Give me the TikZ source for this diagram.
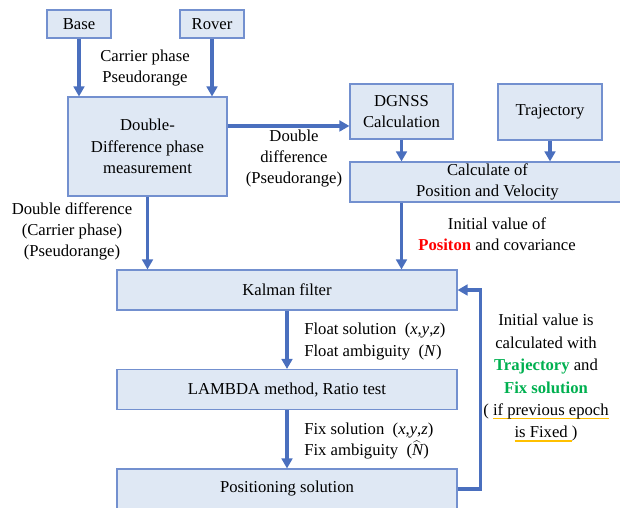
\documentclass[tikz,border=0pt]{standalone}
\usepackage{fontspec}
\setmainfont{Liberation Serif}[Ligatures=TeX]
\usepackage{xcolor}
\usepackage{tikz}
\usetikzlibrary{arrows.meta,positioning}
\definecolor{flowBlue}{HTML}{4A6FBE}
\definecolor{boxEdge}{HTML}{7390CF}
\definecolor{boxFill}{HTML}{DFE8F4}
\definecolor{posRed}{HTML}{FF0000}
\definecolor{fixGreen}{HTML}{00B050}
\definecolor{markYellow}{HTML}{FFC000}
\newcommand{\markline}[1]{\setbox0=\hbox{#1}\rlap{\textcolor{markYellow}{\rule[-2.8pt]{\wd0}{1.1pt}}}\box0}
\tikzset{
  flow/.style={-{Triangle[length=7.5pt, width=8pt]}, line width=2.6pt, draw=flowBlue},
  proc box/.style={draw=boxEdge, fill=boxFill, line width=0.8pt, align=center,
    inner sep=0pt, font=\rmfamily\fontsize{12.5}{16}\selectfont},
  note/.style={align=center, inner sep=0pt, font=\rmfamily\fontsize{12.5}{16}\selectfont}
}

\begin{document}
\begin{tikzpicture}[x=0.75pt, y=-0.75pt]
  \useasboundingbox (0,0) rectangle (620,507);
  % boxes
  \node[proc box, minimum width=48pt, minimum height=21pt] (base) at (79,24) {Base};
  \node[proc box, minimum width=48pt, minimum height=21pt] (rover) at (212,24) {Rover};
  \node[proc box, minimum width=119.25pt, minimum height=74.25pt] (dd) at (147.5,146.5)
    {Double-\\Difference phase\\measurement};
  \node[proc box, minimum width=77.25pt, minimum height=41.25pt] (dgnss) at (401.5,111.5)
    {DGNSS\\Calculation};
  \node[proc box, minimum width=78pt, minimum height=42pt] (traj) at (550,112) {Trajectory};
  \node[proc box, minimum width=206.25pt, minimum height=30pt] (calc) at (487.5,182)
    {Calculate of\\Position and Velocity};
  \node[proc box, minimum width=255pt, minimum height=30pt] (kal) at (287,290) {Kalman filter};
  \node[proc box, minimum width=255pt, minimum height=30pt] (lam) at (287,389.5)
    {LAMBDA method, Ratio test};
  \node[proc box, minimum width=255pt, minimum height=30pt] (pos) at (287,489)
    {Positioning solution};
  % labels
  \node[note] (cplabel) at (145,68) {Carrier phase\\Pseudorange};
  \node[note] (ddpr) at (294,158.5) {Double\\difference\\(Pseudorange)};
  \node[note] (ddcp) at (72,231.5) {Double difference\\(Carrier phase)\\(Pseudorange)};
  \node[note] (initpos) at (497,234)
    {Initial value of\\\textcolor{posRed}{\textbf{Positon}} and covariance};
  \node[note, align=left, anchor=west] (floatsol) at (304,341.5)
    {Float solution\ \ (\textit{x},\textit{y},\textit{z})\\Float ambiguity\ \ (\textit{N})};
  \node[note, align=left, anchor=west] (fixsol) at (304,441)
    {Fix solution\ \ (\textit{x},\textit{y},\textit{z})\\Fix ambiguity\ \ (\smash{$\widehat{\mathit{N}}$})};
  \node[note, font=\rmfamily\fontsize{12.5}{16.8}\selectfont] (initfix) at (546,378)
    {Initial value is\\calculated with\\\textcolor{fixGreen}{\textbf{Trajectory}} and\\
     \textcolor{fixGreen}{\textbf{Fix solution}}\\( \markline{if previous epoch}\\
     \markline{is Fixed\ })};
  % connectors
  \coordinate (ddout) at ([yshift=15.4pt]dd.east);
  \draw[flow] (base.south) -- (base.south |- dd.north);
  \draw[flow] (rover.south) -- (rover.south |- dd.north);
  \draw[flow] (ddout) -- (ddout -| dgnss.west);
  \draw[flow] (dd.south) -- (dd.south |- kal.north);
  \draw[flow] (dgnss.south) -- (dgnss.south |- calc.north);
  \draw[flow] (traj.south) -- (traj.south |- calc.north);
  \draw[flow] (dgnss.south |- calc.south) -- (dgnss.south |- kal.north);
  \draw[flow] (kal) -- (lam);
  \draw[flow] (lam) -- (pos);
  \draw[flow] (pos.east) -- ++(23,0) |- (kal.east);
\end{tikzpicture}
\end{document}
